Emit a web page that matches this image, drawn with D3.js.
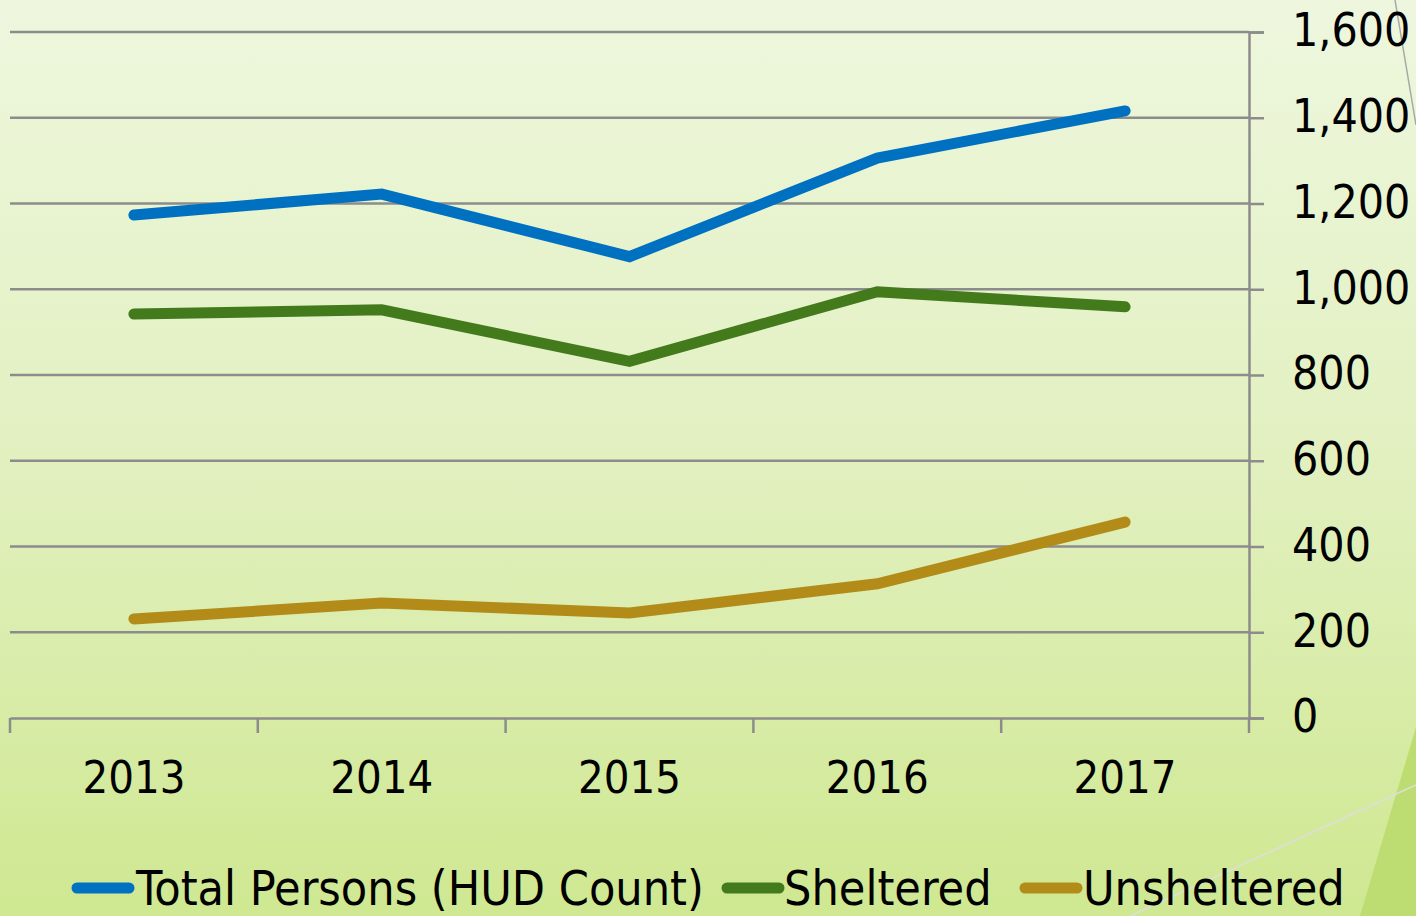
<!DOCTYPE html>
<html>
<head>
<meta charset="utf-8">
<script src="https://cdn.jsdelivr.net/npm/d3@7"></script>
<style>
  html, body { margin: 0; padding: 0; overflow: hidden; }
  svg { display: block; }
  text { font-family: "DejaVu Sans Condensed", "DejaVu Sans", sans-serif; fill: #000; }
</style>
</head>
<body>
<div id="container"></div>
<script>
const years = ["2013", "2014", "2015", "2016", "2017"];
const totalPersons = [1173, 1222, 1076, 1306, 1416];
const sheltered = [942, 952, 832, 994, 959];
const unsheltered = [231, 268, 245, 313, 457];
const yTicks = [0, 200, 400, 600, 800, 1000, 1200, 1400, 1600];
const seriesNames = ["Total Persons (HUD Count)", "Sheltered", "Unsheltered"];
const seriesColors = ["#0070c0", "#437a1c", "#b38b18"];

const W = 1416, H = 916;
const plot = { left: 10, right: 1249, top: 32, bottom: 718 };

const svg = d3.select("#container").append("svg")
  .attr("width", W)
  .attr("height", H);

// background gradient
const defs = svg.append("defs");
const grad = defs.append("linearGradient")
  .attr("id", "bg")
  .attr("x1", 0).attr("y1", 0).attr("x2", 0).attr("y2", 1);
grad.append("stop").attr("offset", "0%").attr("stop-color", "#eef7de");
grad.append("stop").attr("offset", "50%").attr("stop-color", "#e2f0c0");
grad.append("stop").attr("offset", "100%").attr("stop-color", "#cfe891");

svg.append("rect")
  .attr("width", W).attr("height", H)
  .attr("fill", "url(#bg)");

// slide decorations on the right edge
svg.append("polygon")
  .attr("points", "1360,916 1416,727 1416,916")
  .attr("fill", "#bddc72");
svg.append("line")
  .attr("x1", 1130).attr("y1", 916).attr("x2", 1416).attr("y2", 785)
  .attr("stroke", "#dedede").attr("stroke-width", 1.5);
svg.append("line")
  .attr("x1", 1395).attr("y1", 0).attr("x2", 1416).attr("y2", 125)
  .attr("stroke", "#a8a8a8").attr("stroke-width", 1.5);

const x = d3.scaleBand()
  .domain(years)
  .range([plot.left, plot.right]);

const y = d3.scaleLinear()
  .domain([0, 1600])
  .range([plot.bottom, plot.top]);

// gridlines
svg.append("g")
  .selectAll("line")
  .data(yTicks.filter(d => d > 0))
  .join("line")
  .attr("x1", plot.left)
  .attr("x2", plot.right)
  .attr("y1", d => y(d))
  .attr("y2", d => y(d))
  .attr("stroke", "#8c8c8c")
  .attr("stroke-width", 2.5);

// right value axis
const yAxis = svg.append("g")
  .attr("transform", `translate(${plot.right},0)`)
  .call(d3.axisRight(y).tickValues(yTicks).tickSize(15).tickPadding(28).tickFormat(d3.format(",")));
yAxis.select(".domain").attr("stroke", "#8c8c8c").attr("stroke-width", 2.5);
yAxis.selectAll(".tick line").attr("stroke", "#8c8c8c").attr("stroke-width", 2.5);
yAxis.selectAll(".tick text")
  .attr("font-size", 46)
  .attr("dy", "0.3em")
  .style("font-family", "'DejaVu Sans Condensed', 'DejaVu Sans', sans-serif");

// bottom category axis
const xAxis = svg.append("g")
  .attr("transform", `translate(0,${plot.bottom})`)
  .call(d3.axisBottom(x).tickSize(0).tickPadding(43));
xAxis.select(".domain").attr("stroke", "#8c8c8c").attr("stroke-width", 2.5);
xAxis.selectAll(".tick text")
  .attr("font-size", 45)
  .style("font-family", "'DejaVu Sans Condensed', 'DejaVu Sans', sans-serif");

// category separator ticks
const bounds = years.map(d => x(d)).concat([plot.right]);
xAxis.append("g")
  .selectAll("line")
  .data(bounds)
  .join("line")
  .attr("x1", d => d).attr("x2", d => d)
  .attr("y1", 0).attr("y2", 15)
  .attr("stroke", "#8c8c8c")
  .attr("stroke-width", 2.5);

// lines
const allSeries = [totalPersons, sheltered, unsheltered];
const line = d3.line()
  .x((d, i) => x(years[i]) + x.bandwidth() / 2)
  .y(d => y(d));

svg.append("g")
  .selectAll("path")
  .data(allSeries)
  .join("path")
  .attr("d", d => line(d))
  .attr("fill", "none")
  .attr("stroke", (d, i) => seriesColors[i])
  .attr("stroke-width", 11)
  .attr("stroke-linecap", "round")
  .attr("stroke-linejoin", "miter");

// legend
const legendItems = [
  { swatch: 72, text: 136 },
  { swatch: 722, text: 784 },
  { swatch: 1020, text: 1083 }
];
const legendY = 888;
const legend = svg.append("g");
legend.selectAll("line")
  .data(seriesNames)
  .join("line")
  .attr("x1", (d, i) => legendItems[i].swatch + 5)
  .attr("x2", (d, i) => legendItems[i].swatch + 57)
  .attr("y1", legendY)
  .attr("y2", legendY)
  .attr("stroke", (d, i) => seriesColors[i])
  .attr("stroke-width", 11)
  .attr("stroke-linecap", "round");
legend.selectAll("text")
  .data(seriesNames)
  .join("text")
  .attr("x", (d, i) => legendItems[i].text)
  .attr("y", legendY)
  .attr("dy", "0.35em")
  .attr("font-size", 48)
  .text(d => d);
</script>
</body>
</html>
